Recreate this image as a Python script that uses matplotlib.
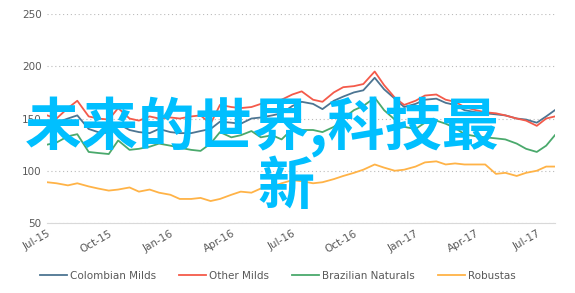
import matplotlib
matplotlib.use('Agg')
import matplotlib.pyplot as plt
import matplotlib.dates as mdates
import pandas as pd

# --- data (semi-monthly readings, Jul 2015 - Jul 2017) ---
dates = pd.date_range("2015-07-01", "2017-07-15", freq="SMS").tolist() + [pd.Timestamp("2017-07-28")]

colombian = [144, 146, 150, 153, 140, 137, 136, 145, 139, 137, 136, 140, 137, 136, 136, 138,
             140, 147, 146, 145, 150, 151, 153, 155, 162, 166, 164, 159, 167, 171, 175, 177,
             189, 178, 169, 161, 164, 168, 169, 165, 163, 158, 156, 155, 154, 153, 150, 149,
             146, 152, 158]
other = [153, 150, 160, 167, 152, 150, 149, 160, 150, 148, 152, 150, 151, 150, 152, 153,
         145, 163, 161, 160, 161, 164, 165, 168, 173, 176, 168, 166, 175, 180, 181, 183,
         195, 182, 170, 163, 167, 172, 173, 168, 166, 161, 158, 156, 155, 153, 150, 148,
         143, 150, 152]
brazilian = [125, 127, 133, 135, 118, 117, 116, 129, 120, 121, 123, 126, 124, 122, 120, 119,
             126, 137, 132, 134, 138, 132, 134, 130, 140, 139, 139, 137, 142, 150, 158, 162,
             170, 158, 149, 142, 140, 146, 148, 145, 141, 135, 133, 132, 131, 130, 126, 121,
             118, 124, 134]
robustas = [89, 88, 86, 88, 85, 83, 81, 82, 84, 80, 82, 79, 77, 73, 73, 74,
            71, 73, 77, 80, 79, 83, 85, 88, 91, 90, 88, 89, 92, 95, 98, 101,
            106, 103, 100, 101, 104, 108, 109, 106, 107, 106, 106, 106, 97, 98, 95, 98,
            100, 104, 104]

series = ["Colombian Milds", "Other Milds", "Brazilian Naturals", "Robustas"]
colors = ["#4d7592", "#f45a4a", "#4aa96c", "#ffb347"]

fig = plt.figure(figsize=(5.75, 2.93), dpi=100)
ax = fig.add_axes([0.082, 0.239, 0.883, 0.713])

for name, vals, c in zip(series, [colombian, other, brazilian, robustas], colors):
    ax.plot(dates, vals, color=c, lw=1.3, label=name)

ax.set_ylim(50, 250)
ax.set_yticks([50, 100, 150, 200, 250])
ax.set_xlim(dates[0], dates[-1])
ax.xaxis.set_major_locator(mdates.MonthLocator(bymonth=[1, 4, 7, 10]))
ax.xaxis.set_major_formatter(mdates.DateFormatter("%b-%y"))

ax.grid(axis='y', linestyle=(0, (1, 2.5)), color='#bbbbbb', lw=0.8)
ax.set_axisbelow(True)
for s in ['left', 'right', 'top']:
    ax.spines[s].set_visible(False)
ax.spines['bottom'].set_color('#d9d9d9')
ax.tick_params(length=0, labelsize=7.5, labelcolor='#595959', pad=4)
for lab in ax.get_xticklabels():
    lab.set_rotation(30)
    lab.set_ha('right')
    lab.set_rotation_mode('anchor')

fig.legend(loc='center', bbox_to_anchor=(278 / 575, 1 - 276 / 293), ncol=4, frameon=False,
           fontsize=7.5, labelcolor='#595959', handlelength=2.6, columnspacing=2.2,
           handletextpad=0.3)

# overlay caption
cjk = ['Noto Sans CJK SC', 'DejaVu Sans']
fig.text(25 / 575, 1 - 127 / 293, "未来的世界,科技最", family=cjk, fontsize=41,
         weight='bold', color='#00bfff', ha='left', va='center')
fig.text(286 / 575, 1 - 187 / 293, "新", family=cjk, fontsize=41,
         weight='bold', color='#00bfff', ha='center', va='center')

fig.savefig("out.png", dpi=100)
